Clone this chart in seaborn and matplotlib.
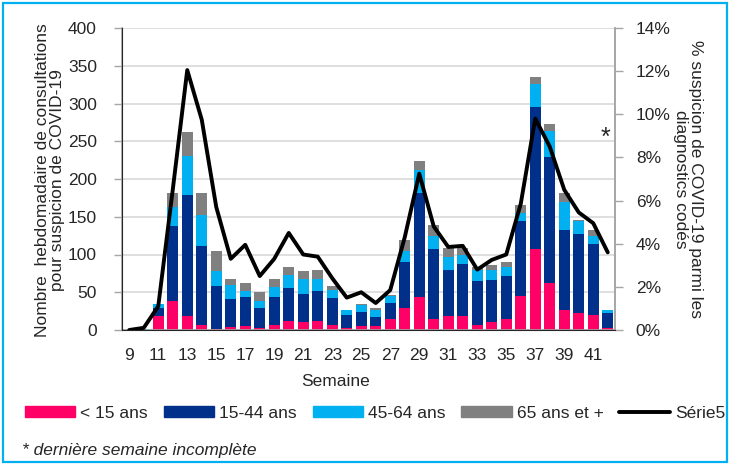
import numpy as np
import pandas as pd
import seaborn as sns
import matplotlib
matplotlib.use('Agg')
import matplotlib.pyplot as plt
from matplotlib.patches import Patch, Rectangle
from matplotlib.lines import Line2D

# Weekly consultations for suspected COVID-19, by age group
weeks = list(range(9, 43))
under_15 = [0, 0, 18, 38, 19, 7, 1, 4, 5, 2, 7, 12, 10, 12, 7, 2, 5, 5, 14, 29, 44, 15, 19, 19, 7, 10,
            15, 45, 107, 62, 27, 22, 20, 2]
age_15_44 = [0, 0, 11, 100, 160, 104, 57, 37, 39, 27, 37, 44, 38, 40, 35, 18, 19, 12, 22, 61, 137, 92,
             61, 68, 58, 56, 56, 100, 188, 167, 106, 105, 94, 21]
age_45_64 = [0, 1, 5, 25, 51, 41, 20, 19, 7, 10, 13, 17, 19, 16, 11, 6, 9, 9, 9, 15, 31, 17, 17, 13,
             15, 14, 12, 10, 31, 34, 36, 17, 11, 4]
age_65_plus = [0, 0, 0, 19, 32, 29, 27, 7, 11, 11, 11, 10, 11, 12, 5, 1, 1, 3, 1, 14, 12, 15, 11, 8,
               3, 6, 7, 10, 9, 10, 13, 2, 7, 0]
# Série5: % suspicion de COVID-19 parmi les diagnostics codés
pct_covid = [0.0, 0.1, 1.1, 6.5, 12.05, 9.75, 5.7, 3.3, 3.95, 2.5, 3.3, 4.5, 3.5, 3.4, 2.4, 1.5,
             1.75, 1.25, 1.85, 4.3, 7.25, 4.8, 3.85, 3.9, 2.8, 3.25, 3.5, 5.85, 9.8, 8.5, 6.5, 5.45,
             4.95, 3.6]

labels = ['< 15 ans', '15-44 ans', '45-64 ans', '65 ans et +', 'Série5']
colors = ['#FF0066', '#003089', '#00B0F0', '#808080']

df = pd.DataFrame({'semaine': weeks, 'u15': under_15, 'a1544': age_15_44,
                   'a4564': age_45_64, 'a65': age_65_plus, 'pct': pct_covid})
df['c1'] = df.u15
df['c2'] = df.c1 + df.a1544
df['c3'] = df.c2 + df.a4564
df['c4'] = df.c3 + df.a65

sns.set_style('white')
plt.rcParams['font.family'] = ['Liberation Sans', 'DejaVu Sans']
fs = 12.5

fig = plt.figure(figsize=(7.31, 4.66), dpi=100)
ax = fig.add_axes([122 / 731, 1 - 330 / 466, (615 - 122) / 731, (330 - 28) / 466])

# stacked bars: draw cumulative totals from top down
for col, c in zip(['c4', 'c3', 'c2', 'c1'], colors[::-1]):
    sns.barplot(data=df, x='semaine', y=col, color=c, saturation=1, width=0.74,
                linewidth=0, ax=ax, zorder=2)

ax.set_xlim(-0.5, len(weeks) - 0.5)
ax.set_ylim(0, 400)
ax.set_yticks(np.arange(0, 401, 50))
ax.yaxis.grid(True, color='#d9d9d9', lw=1.2, zorder=0)
ax.set_axisbelow(True)
ax.set_xticks(np.arange(0, len(weeks), 2))
ax.set_xticklabels([str(w) for w in weeks[::2]])
ax.set_xticks(np.arange(-0.5, len(weeks), 1), minor=True)
ax.tick_params(axis='x', which='major', length=0, pad=13, labelsize=fs)
ax.tick_params(axis='x', which='minor', length=6, width=1, color='#a6a6a6', direction='out')
ax.tick_params(axis='y', length=6, width=1, color='#a6a6a6', pad=12, labelsize=fs, left=True)
ax.set_xlabel('')
ax.set_ylabel('')
ax.spines['top'].set_visible(False)
for side in ['left', 'bottom', 'right']:
    ax.spines[side].set_color('#a6a6a6')
    ax.spines[side].set_linewidth(1.2)

ax2 = ax.twinx()
sns.lineplot(x=np.arange(len(weeks)), y=df.pct, color='black', lw=2.8, ax=ax2, zorder=3)
ax2.set_ylim(0, 14)
ax2.set_yticks(np.arange(0, 15, 2))
ax2.set_yticklabels([f'{v}%' for v in range(0, 15, 2)])
ax2.tick_params(axis='y', length=6, width=1, color='#a6a6a6', pad=9, labelsize=fs, right=True)
ax2.set_ylabel('')
ax2.spines['top'].set_visible(False)
ax2.spines['right'].set_color('#a6a6a6')
ax2.spines['right'].set_linewidth(1.2)
ax2.grid(False)

# incomplete last week marker
ax.text(len(weeks) - 1.15, 254, '*', fontsize=18, ha='center', va='center', zorder=5)

fig.text(50 / 731, 1 - 180 / 466,
         'Nombre  hebdomadaire de consultations\npour suspicion de COVID-19',
         rotation=90, ha='center', va='center', fontsize=fs, linespacing=1.05)
fig.text(688 / 731, 1 - 179 / 466,
         '% suspicion de COVID-19 parmi les\ndiagnostics codés',
         rotation=270, ha='center', va='center', fontsize=fs, linespacing=1.05)
fig.text(336 / 731, 1 - 382 / 466, 'Semaine', ha='center', va='center', fontsize=fs)

handles = [Patch(color=c) for c in colors] + [Line2D([], [], color='black', lw=2.8)]
fig.legend(handles, labels, loc='center', bbox_to_anchor=(375 / 731, 1 - 413 / 466), ncol=5,
           frameon=False, fontsize=fs, handlelength=2.9, handleheight=0.6, handletextpad=0.3,
           columnspacing=0.9, borderpad=0.2)

fig.text(22 / 731, 1 - 451 / 466, '* dernière semaine incomplète', style='italic',
         ha='left', va='center', fontsize=fs)

fig.patches.append(Rectangle((3 / 731, 4 / 466), 724 / 731, 459 / 466, transform=fig.transFigure,
                             fill=False, edgecolor='#00B0F0', lw=1.6))

fig.savefig('out.png', dpi=100)
